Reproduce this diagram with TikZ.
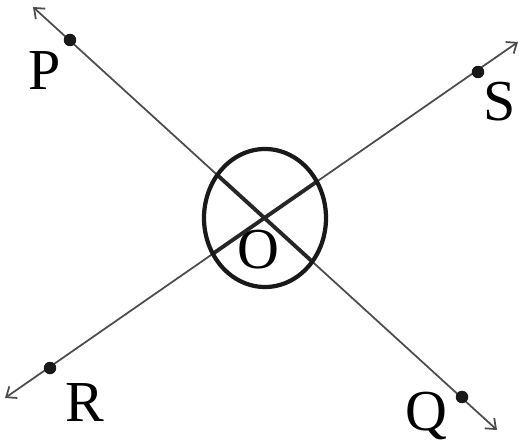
\documentclass[tikz,border=0pt]{standalone}
\usepackage{fontspec}
\setmainfont{Liberation Serif}
\usetikzlibrary{arrows.meta}
\tikzset{
  ray line/.style={
    {Straight Barb[length=5pt,width=8pt]}-{Straight Barb[length=5pt,width=8pt]},
    line width=1pt, color=black!70
  },
  inner line/.style={line width=2.2pt, color=black!85},
  ring/.style={line width=2.4pt, draw=black!90},
  point dot/.style={circle, fill=black!90, inner sep=0pt, minimum size=0.25cm},
  point label/.style={anchor=base, inner sep=0pt, font=\fontsize{33}{33}\selectfont},
}

\begin{document}
\begin{tikzpicture}[x=0.02cm, y=-0.02cm]

  \useasboundingbox (0,0) rectangle (521,446);

  % ── Centre and arrow ends ─────────────────────────────────────────────────
  \coordinate (O)    at (265,218);
  \coordinate (pEnd) at (33,7);
  \coordinate (qEnd) at (497,430);
  \coordinate (rEnd) at (5,398);
  \coordinate (sEnd) at (518,42);

  % ── Lines PQ and RS ───────────────────────────────────────────────────────
  \draw[ray line] (pEnd) -- (qEnd);
  \draw[ray line] (rEnd) -- (sEnd);

  \begin{scope}
    \clip (O) ellipse [x radius=61, y radius=69];
    \draw[inner line] (pEnd) -- (qEnd);
    \draw[inner line] (rEnd) -- (sEnd);
  \end{scope}

  % ── Circle round O ────────────────────────────────────────────────────────
  \draw[ring] (O) ellipse [x radius=61, y radius=69];

  % ── Points ────────────────────────────────────────────────────────────────
  \node[point dot] (pDot) at (70,40)   {};
  \node[point dot] (qDot) at (462,397) {};
  \node[point dot] (rDot) at (50,368)  {};
  \node[point dot] (sDot) at (478,72)  {};

  % ── Labels ────────────────────────────────────────────────────────────────
  \node[point label] (pLabel) at (45,90)   {P};
  \node[point label] (qLabel) at (426,430) {Q};
  \node[point label] (rLabel) at (85,421)  {R};
  \node[point label] (sLabel) at (500,121) {S};
  \node[point label] (oLabel) at (258,268) {O};

\end{tikzpicture}
\end{document}
